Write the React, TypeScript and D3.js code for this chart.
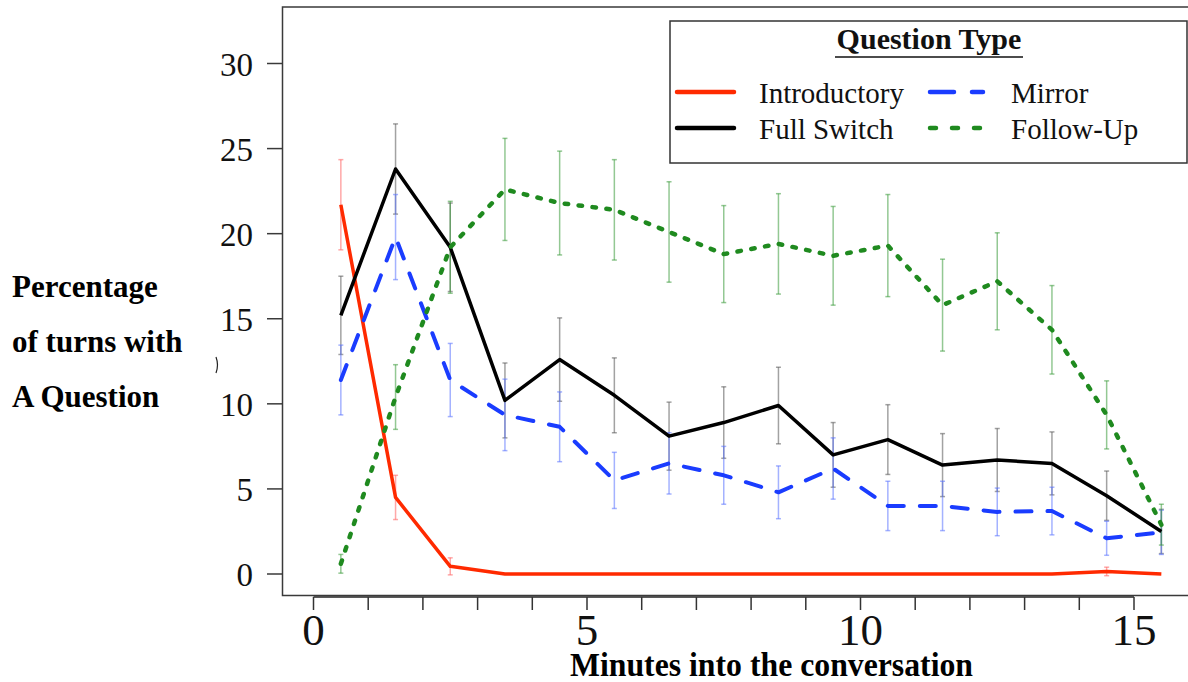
import React from 'react';
import * as d3 from 'd3';

// minute bins (mid-points)
const minutes = [0.5, 1.5, 2.5, 3.5, 4.5, 5.5, 6.5, 7.5, 8.5, 9.5, 10.5, 11.5, 12.5, 13.5, 14.5, 15.5];

const introductory = [21.7, 4.5, 0.45, 0, 0, 0, 0, 0, 0, 0, 0, 0, 0, 0, 0.15, 0];
const introductoryErr = [2.65, 1.3, 0.5, 0, 0, 0, 0, 0, 0, 0, 0, 0, 0, 0, 0.25, 0];

const fullSwitch = [15.2, 23.8, 19.2, 10.2, 12.6, 10.5, 8.1, 8.9, 9.9, 7.0, 7.9, 6.4, 6.7, 6.5, 4.6, 2.5];
const fullSwitchErr = [2.3, 2.65, 2.6, 2.2, 2.45, 2.2, 2.0, 2.1, 2.25, 1.9, 2.05, 1.85, 1.85, 1.85, 1.45, 1.3];

const mirror = [11.4, 19.8, 11.4, 9.35, 8.65, 5.5, 6.5, 5.8, 4.8, 6.2, 4.0, 4.0, 3.65, 3.7, 2.1, 2.45];
const mirrorErr = [2.05, 2.5, 2.15, 2.1, 2.05, 1.65, 1.8, 1.7, 1.55, 1.8, 1.45, 1.45, 1.4, 1.4, 1.0, 1.3];

const followUp = [0.6, 10.4, 19.2, 22.6, 21.8, 21.4, 20.1, 18.8, 19.4, 18.7, 19.3, 15.8, 17.2, 14.35, 9.35, 2.9];
const followUpErr = [0.55, 1.9, 2.7, 3.0, 3.05, 2.95, 2.95, 2.85, 2.95, 2.9, 3.0, 2.7, 2.85, 2.6, 2.0, 1.2];

const xTicks = d3.range(0, 16);
const xLabels = [0, 5, 10, 15];
const yTicks = [0, 5, 10, 15, 20, 25, 30];

const serif = '"Liberation Serif", "Times New Roman", serif';

const series = [
  { name: 'Introductory', values: introductory, err: introductoryErr, color: '#ff2a00', errColor: '#ff6060', dash: null, width: 3.5 },
  { name: 'Full Switch', values: fullSwitch, err: fullSwitchErr, color: '#000000', errColor: '#555555', dash: null, width: 3.5 },
  { name: 'Mirror', values: mirror, err: mirrorErr, color: '#1a3cff', errColor: '#5a72ff', dash: '16 16', width: 4 },
  { name: 'Follow-Up', values: followUp, err: followUpErr, color: '#1f8a1f', errColor: '#3a9a3a', dash: '3.5 10.5', width: 4.5 },
];

export default function App() {
  const x = d3.scaleLinear().domain([0, 15]).range([313.5, 1134]);
  const y = d3.scaleLinear().domain([0, 30]).range([574, 63.5]);

  const line = d3.line<number>()
    .x((_, i) => x(minutes[i]))
    .y(d => y(d));

  const boxLeft = 282.5;
  const boxTop = 7;
  const boxBottom = 595.5;

  return (
    <div style={{ position: 'absolute', left: 0, top: 0 }}>
      <svg width={1188} height={682} style={{ display: 'block', background: '#fff' }}>
        {/* plot box */}
        <path d={`M1189,${boxTop}H${boxLeft}V${boxBottom}H1189`} fill="none" stroke="#3a3a3a" strokeWidth={1.5} />

        {/* y axis */}
        {yTicks.map(t => (
          <g key={t}>
            <line x1={267} x2={boxLeft} y1={y(t)} y2={y(t)} stroke="#3a3a3a" strokeWidth={1.5} />
            <text x={253} y={y(t) + 12} textAnchor="end" fontFamily={serif} fontSize={33} fill="#111">{t}</text>
          </g>
        ))}

        {/* x axis */}
        <line x1={x(0)} x2={x(15)} y1={597} y2={597} stroke="#222" strokeWidth={1.5} />
        {xTicks.map(t => (
          <line key={t} x1={x(t)} x2={x(t)} y1={597} y2={610} stroke="#333" strokeWidth={1.5} />
        ))}
        {xLabels.map(t => (
          <text key={t} x={x(t)} y={645} textAnchor="middle" fontFamily={serif} fontSize={45} fill="#111">{t}</text>
        ))}

        {/* error bars and lines */}
        {series.map(s => (
          <g key={s.name}>
            {s.values.map((v, i) => s.err[i] > 0 ? (
              <g key={i} stroke={s.errColor} strokeOpacity={0.55} strokeWidth={1.5}>
                <line x1={x(minutes[i])} x2={x(minutes[i])} y1={y(v - s.err[i])} y2={y(v + s.err[i])} />
                <line x1={x(minutes[i]) - 2.5} x2={x(minutes[i]) + 2.5} y1={y(v - s.err[i])} y2={y(v - s.err[i])} />
                <line x1={x(minutes[i]) - 2.5} x2={x(minutes[i]) + 2.5} y1={y(v + s.err[i])} y2={y(v + s.err[i])} />
              </g>
            ) : null)}
          </g>
        ))}
        {series.map(s => (
          <path key={s.name} d={line(s.values) || ''} fill="none" stroke={s.color} strokeWidth={s.width}
            strokeDasharray={s.dash || undefined} strokeLinecap={s.dash ? 'round' : 'butt'} strokeLinejoin="round" />
        ))}

        {/* legend */}
        <rect x={670} y={21} width={517} height={142} fill="#fff" stroke="#333" strokeWidth={1.5} />
        <text x={929} y={49} textAnchor="middle" fontFamily={serif} fontWeight="bold" fontSize={30} fill="#111">Question Type</text>
        <line x1={835} x2={1023} y1={57} y2={57} stroke="#111" strokeWidth={1.5} />
        {series.map((s, i) => {
          const col = i < 2 ? 0 : 1;
          const row = i % 2;
          const lx = col === 0 ? 677 : 928;
          const ly = row === 0 ? 92 : 128;
          return (
            <g key={s.name}>
              <line x1={lx + (s.dash ? 2 : 0)} x2={lx + 57 - (s.dash ? 2 : 0)} y1={ly} y2={ly} stroke={s.color} strokeWidth={4.5}
                strokeDasharray={s.dash ? (s.name === 'Mirror' ? '24 18' : '6 16') : undefined} strokeLinecap="round" />
              <text x={col === 0 ? 759 : 1011} y={ly + 11} fontFamily={serif} fontSize={29} fill="#111">{s.name}</text>
            </g>
          );
        })}

        {/* y axis title */}
        <g fontFamily={serif} fontWeight="bold" fontSize={31} fill="#000">
          <text x={12} y={297}>Percentage</text>
          <text x={12} y={352}>of turns with</text>
          <text x={12} y={407}>A Question</text>
        </g>
        <path d="M216,357 Q219,365 216,373" fill="none" stroke="#222" strokeWidth={1.2} />

        {/* x axis title */}
        <text x={570} y={676} fontFamily={serif} fontWeight="bold" fontSize={34} textLength={403}
          lengthAdjust="spacingAndGlyphs" fill="#000">Minutes into the conversation</text>
      </svg>
    </div>
  );
}
